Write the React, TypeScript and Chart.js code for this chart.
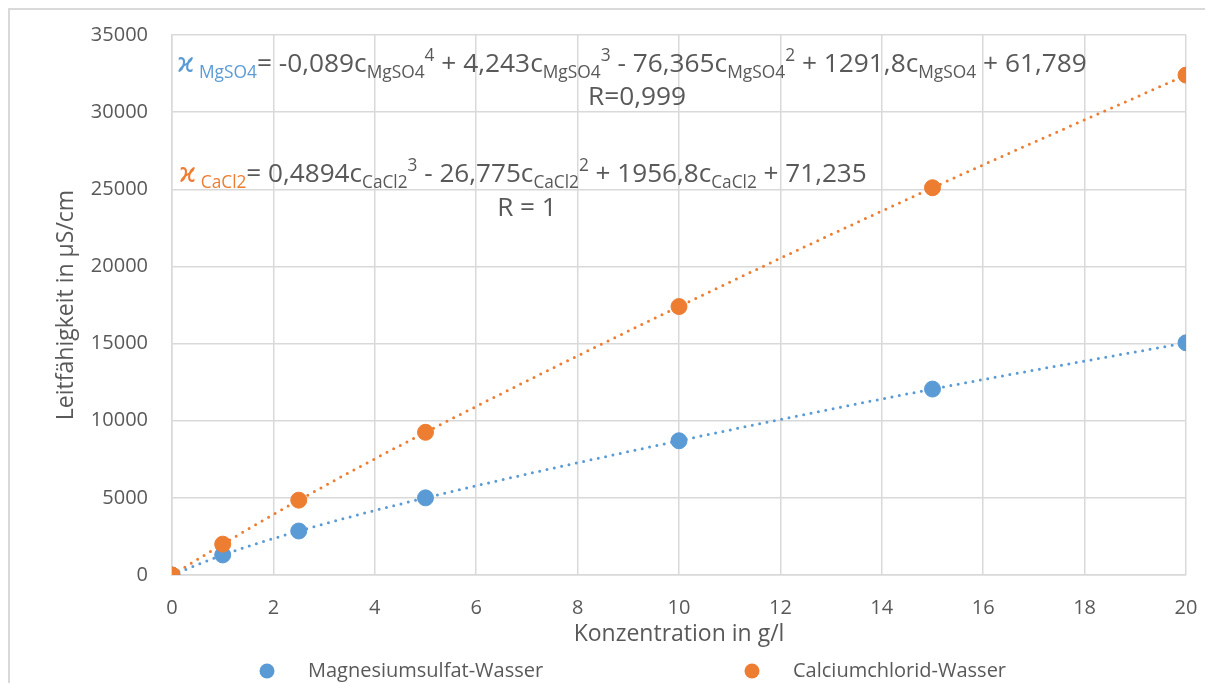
import React, { useEffect, useRef } from "react";
import { Chart, registerables } from "chart.js";

Chart.register(...registerables);

// ---- data ----
const concentrations = [0, 1, 2.5, 5, 10, 15, 20];
const mgso4Values = [0, 1300, 2850, 5000, 8700, 12050, 15050];
const cacl2Values = [0, 2000, 4850, 9250, 17400, 25100, 32400];
const seriesLabels = ["Magnesiumsulfat-Wasser", "Calciumchlorid-Wasser"];
const xTickValues = [0, 2, 4, 6, 8, 10, 12, 14, 16, 18, 20];
const yTickValues = [0, 5000, 10000, 15000, 20000, 25000, 30000, 35000];
const xTitle = "Konzentration in g/l";
const yTitle = "Leitfähigkeit in µS/cm";

type Seg = { t: string; k: "m" | "sub" | "sup"; c?: "s" };
// "s" marks text in series colour
const mgEquation: Seg[] = [
  { t: "ϰ", k: "m", c: "s" },
  { t: " MgSO4", k: "sub", c: "s" },
  { t: "= -0,089c", k: "m" },
  { t: "MgSO4", k: "sub" },
  { t: "4", k: "sup" },
  { t: " + 4,243c", k: "m" },
  { t: "MgSO4", k: "sub" },
  { t: "3", k: "sup" },
  { t: " - 76,365c", k: "m" },
  { t: "MgSO4", k: "sub" },
  { t: "2", k: "sup" },
  { t: " + 1291,8c", k: "m" },
  { t: "MgSO4", k: "sub" },
  { t: " + 61,789", k: "m" },
];
const mgR = "R=0,999";
const caEquation: Seg[] = [
  { t: "ϰ", k: "m", c: "s" },
  { t: " CaCl2", k: "sub", c: "s" },
  { t: "= 0,4894c", k: "m" },
  { t: "CaCl2", k: "sub" },
  { t: "3", k: "sup" },
  { t: " - 26,775c", k: "m" },
  { t: "CaCl2", k: "sub" },
  { t: "2", k: "sup" },
  { t: " + 1956,8c", k: "m" },
  { t: "CaCl2", k: "sub" },
  { t: " + 71,235", k: "m" },
];
const caR = "R = 1";

// ---- styles ----
const BLUE = "#5B9BD5";
const ORANGE = "#ED7D31";
const TEXT = "#595959";
const GRID = "#D9D9D9";
const FONT = "'Open Sans', 'DejaVu Sans', sans-serif";

function drawRich(
  ctx: CanvasRenderingContext2D,
  segs: Seg[],
  x: number,
  cy: number,
  targetWidth: number,
  seriesColor: string
) {
  const base = 24;
  const sizeOf = (k: string, s: number) => (k === "m" ? base * s : base * 0.66 * s);
  const fontOf = (k: string, s: number) => `${sizeOf(k, s)}px ${FONT}`;
  let w = 0;
  for (const sg of segs) {
    ctx.font = fontOf(sg.k, 1);
    w += ctx.measureText(sg.t).width;
  }
  const s = targetWidth / w;
  const m = base * s;
  const baseline = cy + m * 0.36;
  let cx = x;
  ctx.textBaseline = "alphabetic";
  ctx.textAlign = "left";
  for (const sg of segs) {
    ctx.font = fontOf(sg.k, s);
    ctx.fillStyle = sg.c ? seriesColor : TEXT;
    let y = baseline;
    if (sg.k === "sub") y = baseline + m * 0.22;
    if (sg.k === "sup") y = baseline - m * 0.42;
    ctx.fillText(sg.t, cx, y);
    cx += ctx.measureText(sg.t).width;
  }
  return m;
}

const annotationPlugin = {
  id: "annotations",
  afterDraw(chart: any) {
    const ctx = chart.ctx as CanvasRenderingContext2D;
    const a = chart.chartArea;
    ctx.save();
    const m1 = drawRich(ctx, mgEquation, a.left + 5, a.top + 28, 910, BLUE);
    ctx.font = `${m1}px ${FONT}`;
    ctx.fillStyle = TEXT;
    ctx.textAlign = "center";
    ctx.textBaseline = "middle";
    ctx.fillText(mgR, a.left + 465, a.top + 63);
    const m2 = drawRich(ctx, caEquation, a.left + 7, a.top + 138, 688, ORANGE);
    ctx.font = `${m2}px ${FONT}`;
    ctx.fillStyle = TEXT;
    ctx.textAlign = "center";
    ctx.textBaseline = "middle";
    ctx.fillText(caR, a.left + 355, a.top + 174);

    // legend
    const colors = [BLUE, ORANGE];
    const dotX = [257, 742];
    const ly = 661;
    ctx.font = `20px ${FONT}`;
    ctx.textAlign = "left";
    ctx.textBaseline = "middle";
    seriesLabels.forEach((lbl, i) => {
      ctx.fillStyle = colors[i];
      ctx.beginPath();
      ctx.arc(dotX[i], ly, 7.5, 0, Math.PI * 2);
      ctx.fill();
      ctx.fillStyle = TEXT;
      ctx.fillText(lbl, dotX[i] + 41, ly);
    });
    ctx.restore();
  },
};

export default function App() {
  const ref = useRef<HTMLCanvasElement | null>(null);
  useEffect(() => {
    document.documentElement.style.overflow = "hidden";
    const toXY = (vals: number[]) => concentrations.map((x, i) => ({ x, y: vals[i] }));
    const chart = new Chart(ref.current as HTMLCanvasElement, {
      type: "scatter",
      data: {
        datasets: [
          {
            label: seriesLabels[0],
            data: toXY(mgso4Values),
            backgroundColor: BLUE,
            borderColor: BLUE,
            pointRadius: 8,
            pointHoverRadius: 8,
            order: 1,
          },
          {
            label: seriesLabels[1],
            data: toXY(cacl2Values),
            backgroundColor: ORANGE,
            borderColor: ORANGE,
            pointRadius: 8,
            pointHoverRadius: 8,
            order: 0,
          },
          {
            label: "trend-mg",
            data: toXY(mgso4Values),
            showLine: true,
            borderColor: BLUE,
            borderWidth: 3,
            borderDash: [0, 7.5],
            borderCapStyle: "round",
            cubicInterpolationMode: "monotone",
            pointRadius: 0,
            order: 2,
          } as any,
          {
            label: "trend-ca",
            data: toXY(cacl2Values),
            showLine: true,
            borderColor: ORANGE,
            borderWidth: 3,
            borderDash: [0, 7.5],
            borderCapStyle: "round",
            cubicInterpolationMode: "monotone",
            pointRadius: 0,
            order: 2,
          } as any,
        ],
      },
      options: {
        animation: false,
        responsive: false,
        maintainAspectRatio: false,
        layout: { padding: { top: 25, right: 27, bottom: 33, left: 0 } },
        plugins: {
          legend: { display: false },
          tooltip: { enabled: false },
        },
        scales: {
          x: {
            type: "linear",
            min: 0,
            max: 20,
            afterBuildTicks: (s: any) => {
              s.ticks = xTickValues.map((v) => ({ value: v }));
            },
            afterFit: (s: any) => {
              s.height = 75;
              s.paddingLeft = 0;
              s.paddingRight = 0;
            },
            grid: { color: GRID, lineWidth: 1.5, drawTicks: false },
            border: { color: GRID, width: 1.5 },
            ticks: {
              color: TEXT,
              font: { family: FONT, size: 20 },
              padding: 21,
              maxRotation: 0,
              callback: (v: any) => String(v),
            },
            title: {
              display: true,
              text: xTitle,
              color: TEXT,
              font: { family: FONT, size: 23 },
              padding: { top: 0, bottom: 2 },
            },
          },
          y: {
            type: "linear",
            min: 0,
            max: 35000,
            afterBuildTicks: (s: any) => {
              s.ticks = yTickValues.map((v) => ({ value: v }));
            },
            afterFit: (s: any) => {
              s.width = 162;
              s.paddingTop = 0;
              s.paddingBottom = 0;
            },
            grid: { color: GRID, lineWidth: 1.5, drawTicks: false },
            border: { color: GRID, width: 1.5 },
            ticks: {
              color: TEXT,
              font: { family: FONT, size: 20 },
              padding: 24,
              callback: (v: any) => String(v),
            },
            title: {
              display: true,
              text: yTitle,
              color: TEXT,
              font: { family: FONT, size: 23 },
              padding: { top: 43, bottom: 0 },
            },
          },
        },
      },
      plugins: [annotationPlugin],
    } as any);
    return () => chart.destroy();
  }, []);

  return (
    <div
      style={{
        width: 1205,
        height: 675,
        borderTop: `2px solid ${GRID}`,
        borderLeft: `2px solid ${GRID}`,
        boxSizing: "border-box",
        background: "#fff",
      }}
    >
      <canvas ref={ref} width={1203} height={673} style={{ display: "block" }} />
    </div>
  );
}
